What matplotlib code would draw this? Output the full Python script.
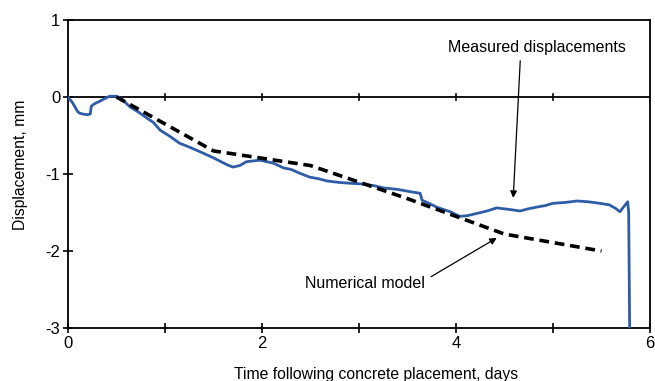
import matplotlib
matplotlib.use("Agg")
import matplotlib.pyplot as plt

# Measured displacements (days, mm)
meas_t = [0.00, 0.05, 0.10, 0.12, 0.15, 0.20, 0.23, 0.24, 0.27, 0.32, 0.38, 0.43, 0.50,
          0.55, 0.64, 0.72, 0.81, 0.88, 0.95, 1.05, 1.15, 1.25, 1.36, 1.50, 1.64, 1.70,
          1.77, 1.84, 1.98, 2.05, 2.12, 2.22, 2.30, 2.39, 2.49, 2.58, 2.67, 2.80, 2.91,
          3.04, 3.15, 3.25, 3.40, 3.53, 3.63, 3.65, 3.72, 3.80, 3.94, 4.04, 4.12, 4.22,
          4.32, 4.42, 4.55, 4.66, 4.75, 4.83, 4.92, 5.00, 5.12, 5.25, 5.36, 5.48, 5.58,
          5.65, 5.69, 5.72, 5.77, 5.78, 5.79]
meas_d = [0.00, -0.08, -0.19, -0.21, -0.22, -0.23, -0.22, -0.12, -0.09, -0.06, -0.02, 0.01, 0.01,
          -0.02, -0.13, -0.19, -0.27, -0.33, -0.43, -0.51, -0.60, -0.65, -0.71, -0.79, -0.88, -0.91,
          -0.89, -0.84, -0.82, -0.84, -0.86, -0.92, -0.94, -0.99, -1.04, -1.06, -1.09, -1.11, -1.12,
          -1.13, -1.15, -1.18, -1.20, -1.23, -1.25, -1.34, -1.38, -1.43, -1.49, -1.55, -1.54, -1.51,
          -1.48, -1.44, -1.46, -1.48, -1.45, -1.43, -1.41, -1.38, -1.37, -1.35, -1.36, -1.38, -1.40,
          -1.45, -1.49, -1.44, -1.36, -1.50, -3.00]

# Numerical model
model_t = [0.5, 1.5, 2.5, 3.5, 4.5, 5.5]
model_d = [0.0, -0.70, -0.89, -1.32, -1.78, -2.00]

x_ticks = [0, 1, 2, 3, 4, 5, 6]
x_labels = ["0", "", "2", "", "4", "", "6"]
y_ticks = [-3, -2, -1, 0, 1]
y_labels = ["-3", "-2", "-1", "0", "1"]

plt.rcParams['font.family'] = ["Liberation Sans", "DejaVu Sans"]
plt.rcParams['axes.unicode_minus'] = False
FS = 11.5

fig = plt.figure(figsize=(6.55, 3.81), dpi=100)
ax = fig.add_axes([0.1038, 0.139, 0.8886, 0.8085])

ax.plot(meas_t, meas_d, color="#2F5CA6", lw=2.0, zorder=3)
ax.plot(model_t, model_d, color="black", lw=2.6, dashes=(2.7, 1.6), zorder=4)

ax.axhline(0, color="black", lw=1.3, zorder=2)
for t in x_ticks[1:-1]:
    ax.plot([t, t], [-0.04, 0.04], color="black", lw=1.2, zorder=2)

ax.set_xlim(0, 6)
ax.set_ylim(-3, 1)
ax.set_xticks(x_ticks)
ax.set_xticklabels(x_labels)
ax.set_yticks(y_ticks)
ax.set_yticklabels(y_labels)
ax.tick_params(direction="inout", length=7, width=1.2, labelsize=12, pad=2)
for s in ax.spines.values():
    s.set_linewidth(1.3)

ax.set_xlabel("Time following concrete placement, days", fontsize=11.3)
ax.xaxis.set_label_coords(0.529, -0.125)
ax.set_ylabel("Displacement, mm", fontsize=11.3)
ax.yaxis.set_label_coords(-0.068, 0.53)

ax.annotate("Measured displacements", xy=(4.59, -1.31), xytext=(4.83, 0.64),
            ha="center", va="center", fontsize=FS,
            arrowprops=dict(arrowstyle="-|>", color="black", lw=0.9,
                            shrinkA=2, shrinkB=0, mutation_scale=10,
                            relpos=(0.41, 0.0)))
ax.annotate("Numerical model", xy=(4.42, -1.83), xytext=(3.06, -2.42),
            ha="center", va="center", fontsize=FS,
            arrowprops=dict(arrowstyle="-|>", color="black", lw=0.9,
                            shrinkA=3, shrinkB=0, mutation_scale=10,
                            relpos=(1.0, 0.7)))

fig.savefig("out.png", dpi=100)
